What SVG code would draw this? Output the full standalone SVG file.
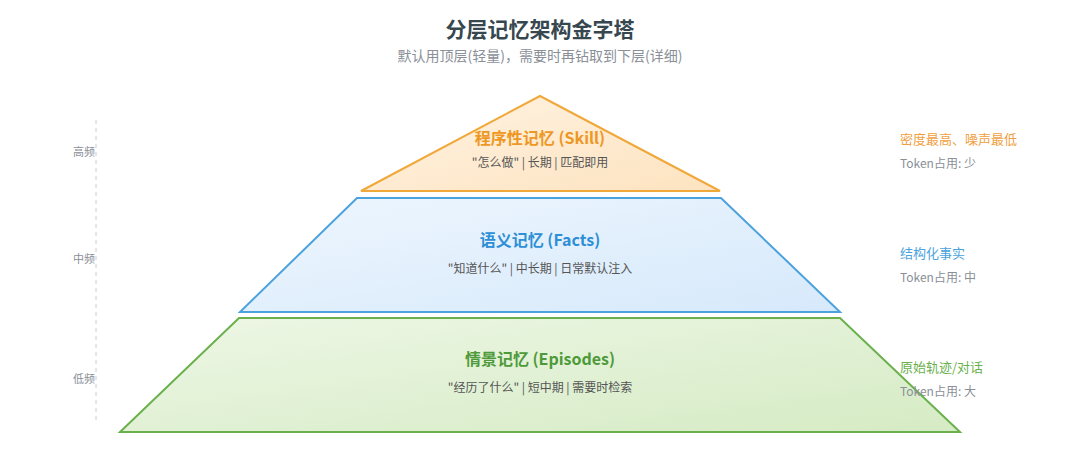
<svg xmlns="http://www.w3.org/2000/svg" width="1080" height="456" viewBox="0 0 1080 456">
<defs>
<linearGradient id="gO" x1="0" y1="0" x2="1" y2="1"><stop offset="0" stop-color="#fff3e3"/><stop offset="1" stop-color="#fde3c0"/></linearGradient>
<linearGradient id="gB" x1="0" y1="0" x2="1" y2="1"><stop offset="0" stop-color="#eef6fe"/><stop offset="1" stop-color="#d6e9fb"/></linearGradient>
<linearGradient id="gG" x1="0" y1="0" x2="1" y2="1"><stop offset="0" stop-color="#eef7e6"/><stop offset="1" stop-color="#d5ebc4"/></linearGradient>
</defs>
<style>
text{font-family:"Noto Sans CJK SC","Noto Sans",sans-serif}
.t{font-size:16px;font-weight:bold;text-anchor:middle}
.s{font-size:12px;fill:#555;text-anchor:middle}
.r{font-size:13px}
.k{font-size:12px;fill:#8a8f98}
.l{font-size:11px;fill:#8a8f98;text-anchor:middle}
</style>
<rect width="1080" height="456" fill="#fff"/>
<text x="540" y="37" text-anchor="middle" font-size="21" font-weight="bold" fill="#37474f">分层记忆架构金字塔</text>
<text x="540" y="61" text-anchor="middle" font-size="14" fill="#8a8f98">默认用顶层(轻量)，需要时再钻取到下层(详细)</text>
<line x1="96" y1="120" x2="96" y2="420" stroke="#ccc" stroke-dasharray="4 4"/>
<text class="l" x="84" y="156">高频</text>
<text class="l" x="84" y="263">中频</text>
<text class="l" x="84" y="383">低频</text>
<g id="skill">
<polygon points="540,96 720,191 361,191" fill="url(#gO)" stroke="#f0a83a" stroke-width="2"/>
<text class="t" x="540" y="144" fill="#ee9722">程序性记忆 (Skill)</text>
<text class="s" x="540" y="167">"怎么做" | 长期 | 匹配即用</text>
</g>
<g id="facts">
<polygon points="357,198 721,198 840,312 240,312" fill="url(#gB)" stroke="#4ba2dd" stroke-width="2"/>
<text class="t" x="540" y="246" fill="#2d8fd5">语义记忆 (Facts)</text>
<text class="s" x="540" y="273">"知道什么" | 中长期 | 日常默认注入</text>
</g>
<g id="episodes">
<polygon points="239,318 840,318 960,432 120,432" fill="url(#gG)" stroke="#6ab04c" stroke-width="2"/>
<text class="t" x="540" y="365" fill="#4e9a3a">情景记忆 (Episodes)</text>
<text class="s" x="540" y="392">"经历了什么" | 短中期 | 需要时检索</text>
</g>
<g id="notes">
<text class="r" x="900" y="144" fill="#f0a040">密度最高、噪声最低</text>
<text class="k" x="900" y="168">Token占用: 少</text>
<text class="r" x="900" y="258" fill="#4ba2dd">结构化事实</text>
<text class="k" x="900" y="282">Token占用: 中</text>
<text class="r" x="900" y="372" fill="#6ab04c">原始轨迹/对话</text>
<text class="k" x="900" y="396">Token占用: 大</text>
</g>
<g id="connectors"/>
</svg>
